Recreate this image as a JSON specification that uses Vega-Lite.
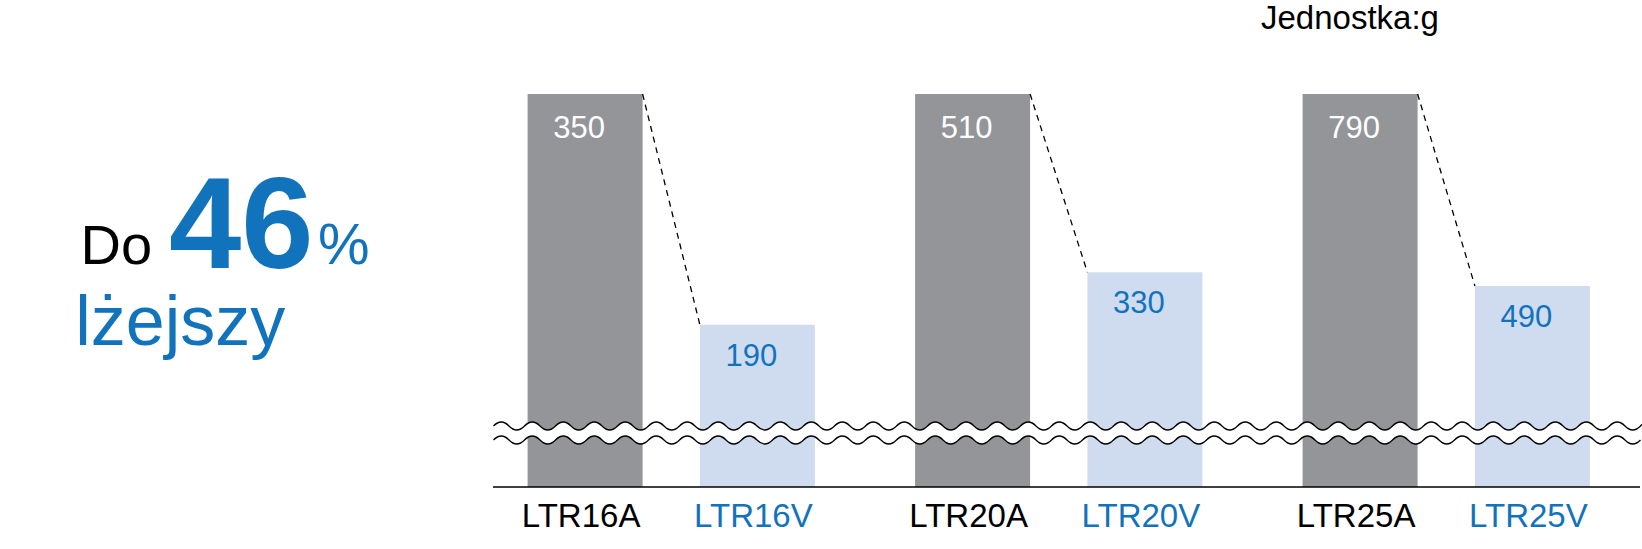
{
  "$schema": "https://vega.github.io/schema/vega-lite/v6.json",
  "width": 1642,
  "height": 549,
  "autosize": {"type": "none"},
  "padding": 0,
  "background": "white",
  "config": {"view": {"stroke": null}, "font": "Liberation Sans"},
  "data": {"values": [
    {"model": "LTR16A", "group": "LTR16", "type": "A", "weight": 350, "pct": 100},
    {"model": "LTR16V", "group": "LTR16", "type": "V", "weight": 190, "pct": 54.3},
    {"model": "LTR20A", "group": "LTR20", "type": "A", "weight": 510, "pct": 100},
    {"model": "LTR20V", "group": "LTR20", "type": "V", "weight": 330, "pct": 64.7},
    {"model": "LTR25A", "group": "LTR25", "type": "A", "weight": 790, "pct": 100},
    {"model": "LTR25V", "group": "LTR25", "type": "V", "weight": 490, "pct": 62.0}
  ]},
  "layer": [
    {
      "mark": {"type": "bar"},
      "encoding": {
        "x": {"field": "group", "type": "nominal", "axis": null,
              "scale": {"domain": ["note", "LTR16", "LTR20", "LTR25"], "range": [90, 1640], "paddingInner": 0, "paddingOuter": 0}},
        "xOffset": {"field": "type", "type": "nominal", "scale": {"domain": ["A", "V"], "paddingInner": 0.3326, "paddingOuter": 0.2908}},
        "y": {"field": "pct", "type": "quantitative", "axis": null,
              "scale": {"domain": [22.2, 100], "range": [487, 94], "zero": false, "nice": false}},
        "y2": {"datum": 22.2},
        "color": {"condition": {"test": "datum.type === 'A'", "value": "#949599"}, "value": "#cfdbee"}
      }
    },
    {
      "data": {"values": [{}]},
      "mark": {"type": "point", "filled": true, "opacity": 1, "fill": "white", "strokeWidth": 0, "size": 4, "xOffset": 8.25,
        "shape": "M-573.5,-7q7.75,-8,15.5,0t15.5,0t15.5,0t15.5,0t15.5,0t15.5,0t15.5,0t15.5,0t15.5,0t15.5,0t15.5,0t15.5,0t15.5,0t15.5,0t15.5,0t15.5,0t15.5,0t15.5,0t15.5,0t15.5,0t15.5,0t15.5,0t15.5,0t15.5,0t15.5,0t15.5,0t15.5,0t15.5,0t15.5,0t15.5,0t15.5,0t15.5,0t15.5,0t15.5,0t15.5,0t15.5,0t15.5,0t15.5,0t15.5,0t15.5,0t15.5,0t15.5,0t15.5,0t15.5,0t15.5,0t15.5,0t15.5,0t15.5,0t15.5,0t15.5,0t15.5,0t15.5,0t15.5,0t15.5,0t15.5,0t15.5,0t15.5,0t15.5,0t15.5,0t15.5,0t15.5,0t15.5,0t15.5,0t15.5,0t15.5,0t15.5,0t15.5,0t15.5,0t15.5,0t15.5,0t15.5,0t15.5,0t15.5,0t15.5,0t15.5,0L573.5,7q-7.75,8,-15.5,0t-15.5,0t-15.5,0t-15.5,0t-15.5,0t-15.5,0t-15.5,0t-15.5,0t-15.5,0t-15.5,0t-15.5,0t-15.5,0t-15.5,0t-15.5,0t-15.5,0t-15.5,0t-15.5,0t-15.5,0t-15.5,0t-15.5,0t-15.5,0t-15.5,0t-15.5,0t-15.5,0t-15.5,0t-15.5,0t-15.5,0t-15.5,0t-15.5,0t-15.5,0t-15.5,0t-15.5,0t-15.5,0t-15.5,0t-15.5,0t-15.5,0t-15.5,0t-15.5,0t-15.5,0t-15.5,0t-15.5,0t-15.5,0t-15.5,0t-15.5,0t-15.5,0t-15.5,0t-15.5,0t-15.5,0t-15.5,0t-15.5,0t-15.5,0t-15.5,0t-15.5,0t-15.5,0t-15.5,0t-15.5,0t-15.5,0t-15.5,0t-15.5,0t-15.5,0t-15.5,0t-15.5,0t-15.5,0t-15.5,0t-15.5,0t-15.5,0t-15.5,0t-15.5,0t-15.5,0t-15.5,0t-15.5,0t-15.5,0Z"},
      "encoding": {
        "x": {"datum": "LTR20", "type": "nominal"},
        "y": {"datum": 32.89, "type": "quantitative"}
      }
    },
    {
      "data": {"values": [{}]},
      "mark": {"type": "point", "filled": false, "opacity": 1, "stroke": "black", "strokeWidth": 1.3, "size": 4, "xOffset": 8.25,
        "shape": "M-573.5,-7q7.75,-8,15.5,0t15.5,0t15.5,0t15.5,0t15.5,0t15.5,0t15.5,0t15.5,0t15.5,0t15.5,0t15.5,0t15.5,0t15.5,0t15.5,0t15.5,0t15.5,0t15.5,0t15.5,0t15.5,0t15.5,0t15.5,0t15.5,0t15.5,0t15.5,0t15.5,0t15.5,0t15.5,0t15.5,0t15.5,0t15.5,0t15.5,0t15.5,0t15.5,0t15.5,0t15.5,0t15.5,0t15.5,0t15.5,0t15.5,0t15.5,0t15.5,0t15.5,0t15.5,0t15.5,0t15.5,0t15.5,0t15.5,0t15.5,0t15.5,0t15.5,0t15.5,0t15.5,0t15.5,0t15.5,0t15.5,0t15.5,0t15.5,0t15.5,0t15.5,0t15.5,0t15.5,0t15.5,0t15.5,0t15.5,0t15.5,0t15.5,0t15.5,0t15.5,0t15.5,0t15.5,0t15.5,0t15.5,0t15.5,0t15.5,0t15.5,0t15.5,0M-573.5,7q7.75,-8,15.5,0t15.5,0t15.5,0t15.5,0t15.5,0t15.5,0t15.5,0t15.5,0t15.5,0t15.5,0t15.5,0t15.5,0t15.5,0t15.5,0t15.5,0t15.5,0t15.5,0t15.5,0t15.5,0t15.5,0t15.5,0t15.5,0t15.5,0t15.5,0t15.5,0t15.5,0t15.5,0t15.5,0t15.5,0t15.5,0t15.5,0t15.5,0t15.5,0t15.5,0t15.5,0t15.5,0t15.5,0t15.5,0t15.5,0t15.5,0t15.5,0t15.5,0t15.5,0t15.5,0t15.5,0t15.5,0t15.5,0t15.5,0t15.5,0t15.5,0t15.5,0t15.5,0t15.5,0t15.5,0t15.5,0t15.5,0t15.5,0t15.5,0t15.5,0t15.5,0t15.5,0t15.5,0t15.5,0t15.5,0t15.5,0t15.5,0t15.5,0t15.5,0t15.5,0t15.5,0t15.5,0t15.5,0t15.5,0t15.5,0"},
      "encoding": {
        "x": {"datum": "LTR20", "type": "nominal"},
        "y": {"datum": 32.89, "type": "quantitative"}
      }
    },
    {
      "data": {"values": [{}]},
      "mark": {"type": "rule", "color": "black", "strokeWidth": 1.5, "xOffset": -178.25, "x2Offset": 193.75},
      "encoding": {
        "x": {"datum": "LTR16", "type": "nominal"},
        "x2": {"datum": "LTR25"},
        "y": {"datum": 22.2, "type": "quantitative"}
      }
    },
    {
      "transform": [{"pivot": "type", "value": "pct", "groupby": ["group"]}],
      "mark": {"type": "rule", "color": "black", "strokeWidth": 1.3, "strokeDash": [6, 5], "xOffset": -28.65, "x2Offset": 28.65},
      "encoding": {
        "x": {"field": "group", "type": "nominal"},
        "x2": {"field": "group"},
        "y": {"field": "A", "type": "quantitative"},
        "y2": {"field": "V"}
      }
    },
    {
      "transform": [{"filter": "datum.type === 'A'"}],
      "mark": {"type": "text", "fontSize": 31, "color": "white", "baseline": "middle", "dy": 35, "dx": -6},
      "encoding": {
        "x": {"field": "group", "type": "nominal"},
        "xOffset": {"field": "type", "type": "nominal"},
        "y": {"field": "pct", "type": "quantitative"},
        "text": {"field": "weight", "type": "quantitative"}
      }
    },
    {
      "transform": [{"filter": "datum.type === 'V'"}],
      "mark": {"type": "text", "fontSize": 31, "color": "#1273bd", "baseline": "middle", "dy": 32, "dx": -6},
      "encoding": {
        "x": {"field": "group", "type": "nominal"},
        "xOffset": {"field": "type", "type": "nominal"},
        "y": {"field": "pct", "type": "quantitative"},
        "text": {"field": "weight", "type": "quantitative"}
      }
    },
    {
      "mark": {"type": "text", "fontSize": 33, "baseline": "middle", "dy": 29.5, "dx": -4},
      "encoding": {
        "x": {"field": "group", "type": "nominal"},
        "xOffset": {"field": "type", "type": "nominal"},
        "y": {"datum": 22.2, "type": "quantitative"},
        "text": {"field": "model", "type": "nominal"},
        "color": {"condition": {"test": "datum.type === 'A'", "value": "black"}, "value": "#1273bd"}
      }
    },
    {
      "data": {"values": [{"label": "Jednostka:g"}]},
      "mark": {"type": "text", "fontSize": 33, "color": "black", "align": "left", "baseline": "alphabetic", "dx": -185.25, "dy": -65},
      "encoding": {
        "x": {"datum": "LTR25", "type": "nominal"},
        "y": {"datum": 100, "type": "quantitative"},
        "text": {"field": "label", "type": "nominal"}
      }
    },
    {
      "data": {"values": [{"label": "Do"}]},
      "mark": {"type": "text", "fontSize": 56, "color": "black", "align": "left", "baseline": "alphabetic", "dx": -203.25},
      "encoding": {
        "x": {"datum": "note", "type": "nominal"},
        "y": {"datum": 66.35, "type": "quantitative"},
        "text": {"field": "label", "type": "nominal"}
      }
    },
    {
      "data": {"values": [{"label": "46"}]},
      "mark": {"type": "text", "fontSize": 130, "fontWeight": "bold", "color": "#1273bd", "align": "left", "baseline": "alphabetic", "dx": -114.75, "dy": 4},
      "encoding": {
        "x": {"datum": "note", "type": "nominal"},
        "y": {"datum": 66.35, "type": "quantitative"},
        "text": {"field": "label", "type": "nominal"}
      }
    },
    {
      "data": {"values": [{"label": "%"}]},
      "mark": {"type": "text", "fontSize": 58, "color": "#1273bd", "align": "left", "baseline": "alphabetic", "dx": 34.25},
      "encoding": {
        "x": {"datum": "note", "type": "nominal"},
        "y": {"datum": 66.35, "type": "quantitative"},
        "text": {"field": "label", "type": "nominal"}
      }
    },
    {
      "data": {"values": [{"label": "lżejszy"}]},
      "mark": {"type": "text", "fontSize": 70, "color": "#1273bd", "align": "left", "baseline": "alphabetic", "dx": -208.45, "dy": 81},
      "encoding": {
        "x": {"datum": "note", "type": "nominal"},
        "y": {"datum": 66.35, "type": "quantitative"},
        "text": {"field": "label", "type": "nominal"}
      }
    }
  ]
}
